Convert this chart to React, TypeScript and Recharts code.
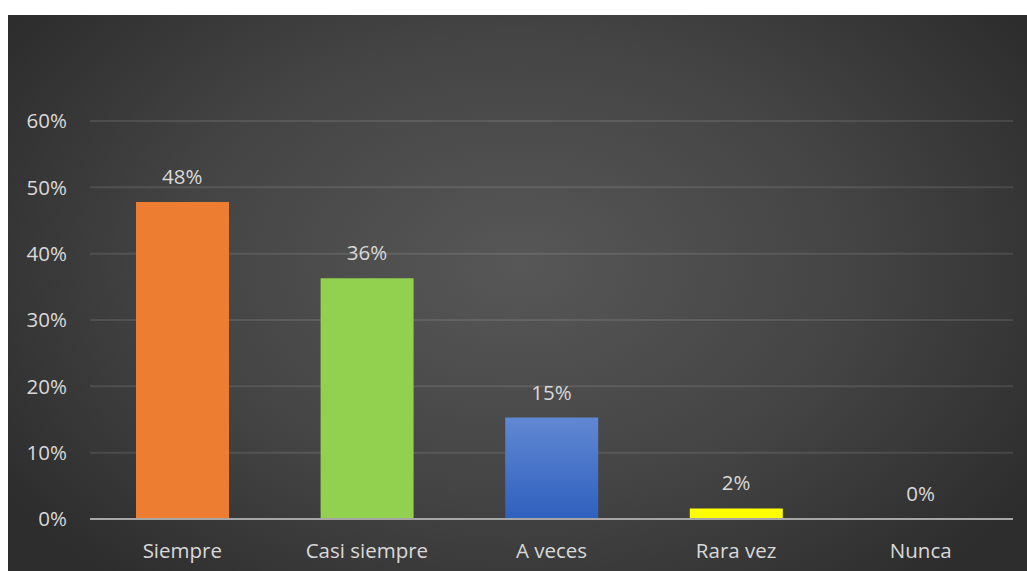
import React from "react";
import { ComposedChart, Bar, Scatter, XAxis, YAxis, CartesianGrid, Cell } from "recharts";

const categories = ["Siempre", "Casi siempre", "A veces", "Rara vez", "Nunca"];
const values = [0.478, 0.363, 0.153, 0.016, 0];
const colors = ["#ED7D31", "#92D050", "url(#blueGrad)", "#FFFF00", "#A5A5A5"];
const yTicks = [0, 0.1, 0.2, 0.3, 0.4, 0.5, 0.6];

const data = categories.map((c, i) => ({ name: c, value: values[i] }));

const FONT = "'Open Sans', 'Noto Sans', sans-serif";
const TXT = "#D9D9D9";
const FS = 20.5;

const pct = (v: number) => `${Math.round(v * 100)}%`;

const ValueLabel = (props: any) => {
  const { cx, cy, payload } = props;
  return (
    <text
      x={Number(cx)}
      y={Number(cy) - 18}
      textAnchor="middle"
      fill={TXT}
      fontSize={FS}
      fontFamily={FONT}
    >
      {pct(Number(payload?.value) || 0)}
    </text>
  );
};

export default function App() {
  return (
    <div>
      <style>{`body{margin:0;overflow:hidden;}`}</style>
      <div
        style={{
          position: "absolute",
          left: 8,
          top: 15,
          width: 1019,
          height: 556,
          background:
            "radial-gradient(ellipse 60% 75% at 50% 45%, #575757 0%, #444444 55%, #2d2d2d 100%)",
        }}
      >
        <ComposedChart
          width={1019}
          height={556}
          data={data}
          margin={{ top: 106, right: 14, bottom: 0, left: 0 }}
        >
          <defs>
            <linearGradient id="blueGrad" x1="0" y1="0" x2="0" y2="1">
              <stop offset="0%" stopColor="#6188D3" />
              <stop offset="100%" stopColor="#2E60BE" />
            </linearGradient>
          </defs>
          <CartesianGrid
            vertical={false}
            stroke="rgba(255,255,255,0.10)"
            strokeWidth={2}
          />
          <XAxis
            dataKey="name"
            height={52}
            tickLine={false}
            tickSize={0}
            tickMargin={24}
            axisLine={{ stroke: "#A6A6A6", strokeWidth: 2 }}
            tick={{ fill: TXT, fontSize: FS, fontFamily: FONT }}
          />
          <YAxis
            width={82}
            domain={[0, 0.6]}
            ticks={yTicks}
            tickFormatter={pct}
            axisLine={false}
            tickLine={false}
            tickSize={0}
            tickMargin={23}
            tick={{ fill: TXT, fontSize: FS, fontFamily: FONT }}
          />
          <Bar dataKey="value" isAnimationActive={false} barSize={93}>
            {data.map((d, i) => (
              <Cell key={d.name} fill={colors[i]} />
            ))}
          </Bar>
          <Scatter
            dataKey="value"
            isAnimationActive={false}
            shape={ValueLabel}
            legendType="none"
          />
        </ComposedChart>
      </div>
    </div>
  );
}
